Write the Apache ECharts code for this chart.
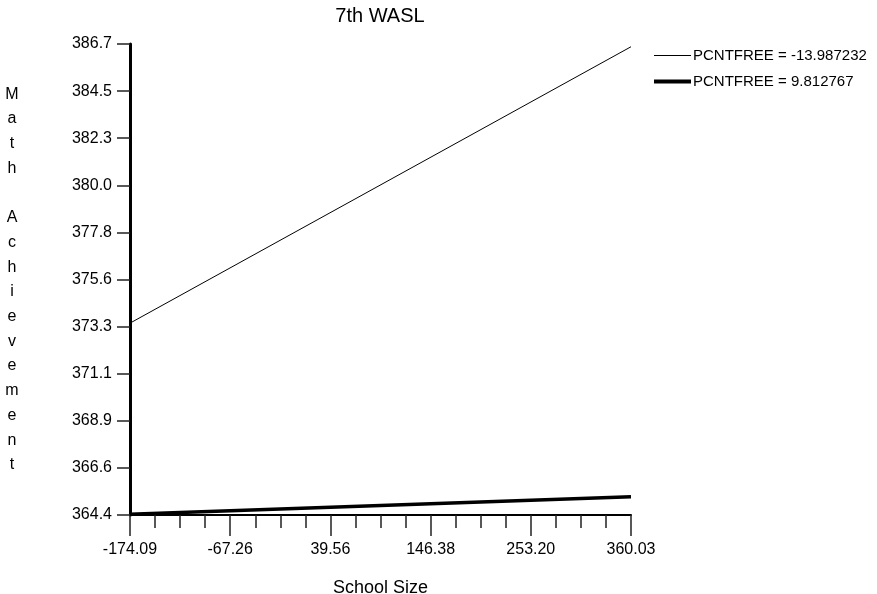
<!DOCTYPE html>
<html>
<head>
<meta charset="utf-8">
<style>
  html, body { margin: 0; padding: 0; background: #fff; }
  #chart { width: 877px; height: 594px; }
</style>
<script src="https://cdn.jsdelivr.net/npm/echarts@6/dist/echarts.min.js"></script>
</head>
<body>
<div id="chart"></div>
<script>
// School size (x) against predicted 7th-grade WASL math score (y)
const schoolSize = [-174.09, 360.03];
const mathLowFree = [373.5, 386.58];   // PCNTFREE = -13.987232
const mathHighFree = [364.45, 365.28]; // PCNTFREE = 9.812767

const seriesNames = ['PCNTFREE = -13.987232', 'PCNTFREE = 9.812767'];

const xMin = -174.09, xMax = 360.03;
const yMin = 364.42, yMax = 386.71;
const xTickLabels = ['-174.09', '-67.26', '39.56', '146.38', '253.20', '360.03'];
const yTickLabels = ['364.4', '366.6', '368.9', '371.1', '373.3', '375.6',
                     '377.8', '380.0', '382.3', '384.5', '386.7'];
const xMinorPerMajor = 4;

function spread(lo, hi, n) {
  const out = [];
  for (let i = 0; i < n; i++) out.push(lo + (hi - lo) * i / (n - 1));
  return out;
}
const xMajor = spread(xMin, xMax, xTickLabels.length);
const xMinor = spread(xMin, xMax, (xTickLabels.length - 1) * xMinorPerMajor + 1);
const yMajor = spread(yMin, yMax, yTickLabels.length);

function labelFor(values, labels) {
  return function (v) {
    let best = 0, d = Infinity;
    values.forEach((t, i) => { const e = Math.abs(t - v); if (e < d) { d = e; best = i; } });
    return labels[best];
  };
}

const FONT = 'Liberation Sans';
const chart = echarts.init(document.getElementById('chart'), null, { renderer: 'canvas' });

chart.setOption({
  animation: false,
  backgroundColor: '#fff',
  textStyle: { fontFamily: FONT, color: '#000' },
  title: [
    {
      text: '7th WASL',
      left: 380, top: 6, padding: 0, textAlign: 'center',
      textStyle: { fontFamily: FONT, fontSize: 20, fontWeight: 'normal', color: '#000' }
    },
    {
      text: 'Math Achievement'.split('').join('\n'),
      left: 12, top: 82, padding: 0, textAlign: 'center',
      textStyle: { fontFamily: FONT, fontSize: 16, fontWeight: 'normal', color: '#000', lineHeight: 24.7 }
    }
  ],
  legend: {
    orient: 'vertical',
    left: 654, top: 48,
    padding: 0,
    itemWidth: 37, itemHeight: 14, itemGap: 11,
    textStyle: { fontFamily: FONT, fontSize: 15, color: '#000', padding: [0, 0, 0, -3] },
    data: [
      { name: seriesNames[0], icon: 'path://M0,0H37V1H0Z', itemStyle: { color: '#000' } },
      { name: seriesNames[1], icon: 'path://M0,0H37V4H0Z', itemStyle: { color: '#000' } }
    ]
  },
  grid: { left: 130, right: 246, top: 44, bottom: 79, containLabel: false, outerBoundsMode: 'none' },
  xAxis: [
    {
      type: 'value', min: xMin, max: xMax,
      name: 'School Size', nameLocation: 'middle', nameGap: 64,
      nameTextStyle: { fontFamily: FONT, fontSize: 18, color: '#000' },
      axisLine: { show: true, onZero: false, lineStyle: { color: '#000', width: 2 } },
      axisTick: { show: true, customValues: xMajor, length: 21, lineStyle: { color: '#222', width: 1.5 } },
      axisLabel: { customValues: xMajor, formatter: labelFor(xMajor, xTickLabels),
                   margin: 27, fontFamily: FONT, fontSize: 16, color: '#000' },
      splitLine: { show: false }
    },
    {
      type: 'value', min: xMin, max: xMax, position: 'bottom',
      axisLine: { show: false, onZero: false },
      axisTick: { show: true, customValues: xMinor, length: 13, lineStyle: { color: '#222', width: 1.5 } },
      axisLabel: { show: false },
      splitLine: { show: false }
    }
  ],
  yAxis: {
    type: 'value', min: yMin, max: yMax,
    axisLine: { show: true, onZero: false, lineStyle: { color: '#000', width: 3 } },
    axisTick: { show: true, customValues: yMajor, length: 13, lineStyle: { color: '#222', width: 1.5 } },
    axisLabel: { customValues: yMajor, formatter: labelFor(yMajor, yTickLabels),
                 margin: 18, fontFamily: FONT, fontSize: 16, color: '#000' },
    splitLine: { show: false }
  },
  series: [
    {
      name: seriesNames[0], type: 'line', xAxisIndex: 0,
      data: schoolSize.map((x, i) => [x, mathLowFree[i]]),
      showSymbol: false, symbol: 'none',
      lineStyle: { color: '#000', width: 1 },
      itemStyle: { color: '#000' }
    },
    {
      name: seriesNames[1], type: 'line', xAxisIndex: 0,
      data: schoolSize.map((x, i) => [x, mathHighFree[i]]),
      showSymbol: false, symbol: 'none',
      lineStyle: { color: '#000', width: 3.5 },
      itemStyle: { color: '#000' }
    }
  ]
});
</script>
</body>
</html>
